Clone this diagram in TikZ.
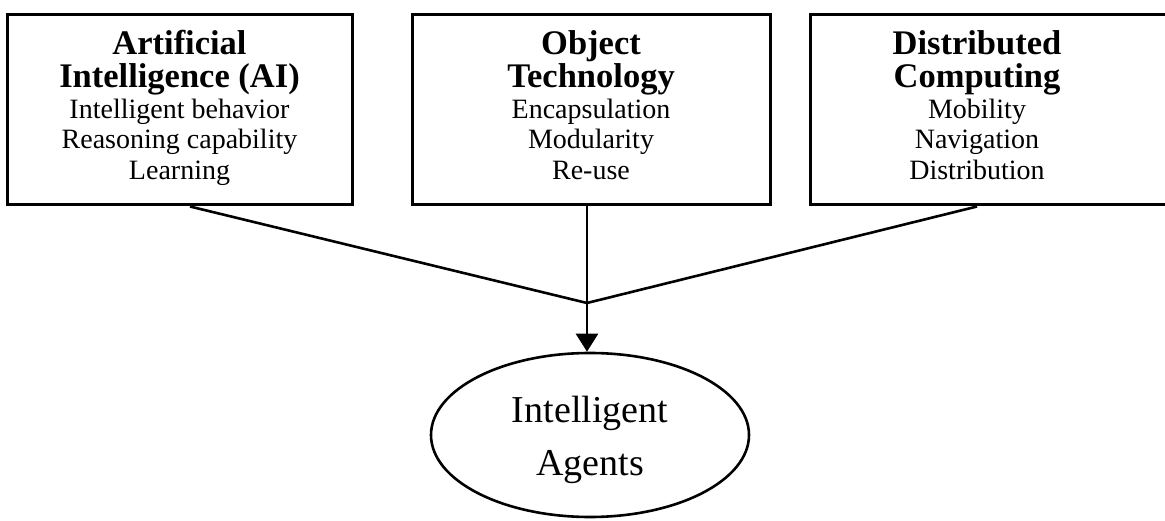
\documentclass[tikz,border=0pt]{standalone}
\usepackage{fontspec}
\setmainfont{Liberation Serif}
\usetikzlibrary{arrows.meta,shapes.geometric}
\newcommand{\panelcentre}{\leftskip=0pt plus 1fil\rightskip=0pt plus 1fil\parfillskip=0pt\spaceskip=0pt\xspaceskip=0pt\relax}
\newcommand{\boxtitlefont}{\bfseries\fontsize{34.5}{33}\selectfont\panelcentre}
\newcommand{\boxitemfont}{\mdseries\fontsize{28}{30.5}\selectfont\panelcentre}
\begin{document}
\begin{tikzpicture}[x=1pt,y=-1pt,
  panel/.style={draw, line width=3pt, rectangle, inner sep=0pt},
  paneltext/.style={text width=340pt, align=flush center, inner sep=0pt, anchor=base},
  link/.style={line width=2.6pt},
  agent/.style={draw, ellipse, line width=2.6pt, minimum width=318pt, minimum height=164pt,
    inner sep=0pt, align=center, font=\fontsize{38}{53}\selectfont}
]
\useasboundingbox (0,0) rectangle (1165,521);
% boxes
\node[panel, minimum width=345pt, minimum height=190pt] (ai) at (179.5,110) {};
\node[panel, minimum width=358pt, minimum height=190pt] (ot) at (591,110) {};
\node[panel, minimum width=365pt, minimum height=190pt] (dc) at (992.5,110) {};
% box texts
\node[paneltext] (aitext) at (179.5,55) {\boxtitlefont Artificial\par Intelligence (AI)\par\boxitemfont Intelligent behavior\par Reasoning capability\par Learning\par};
\node[paneltext] (ottext) at (591,55) {\boxtitlefont Object\par Technology\par\boxitemfont Encapsulation\par Modularity\par Re-use\par};
\node[paneltext] (dctext) at (977,55) {\boxtitlefont Distributed\par Computing\par\boxitemfont Mobility\par Navigation\par Distribution\par};
% ellipse
\node[agent] (ia) at (590,435) {\rule{0pt}{36pt}Intelligent\\Agents};
% connectors
\coordinate (j) at (587,303);
\draw[link] (ai.south -| 190,0) -- (j);
\draw[link] (dc.south -| 977,0) -- (j);
\draw[link, -{Triangle[width=22pt,length=18pt]}] (ot.south -| j) -- (j |- ia.north);
\end{tikzpicture}
\end{document}
